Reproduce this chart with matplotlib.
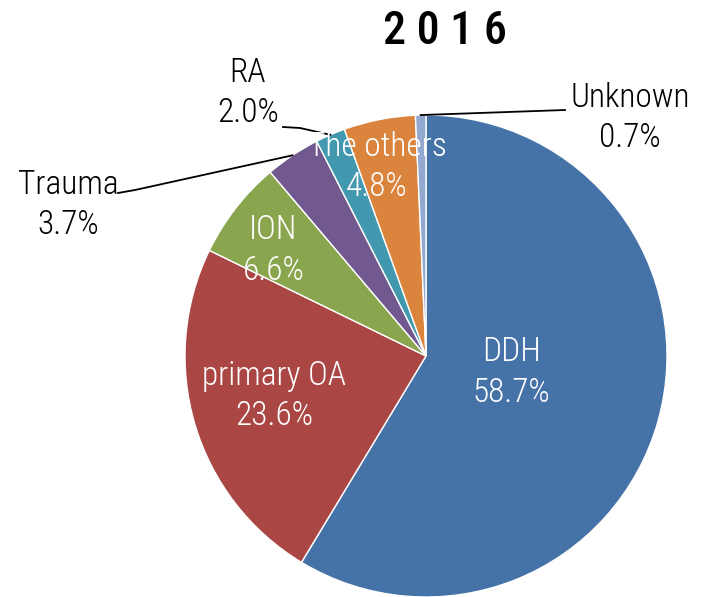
import numpy as np
import matplotlib
matplotlib.use("Agg")
import matplotlib.pyplot as plt
from matplotlib import font_manager

labels = ["DDH", "primary OA", "ION", "Trauma", "RA", "The others", "Unknown"]
values = [58.7, 23.6, 6.6, 3.7, 2.0, 4.8, 0.7]
colors = ["#4572A7", "#AA4643", "#89A54E", "#71588F", "#4198AF", "#DB843D", "#93A9CF"]
title = "2 0 1 6"

names = sorted({f.name for f in font_manager.fontManager.ttflist})
narrow = [n for n in ["Liberation Sans Narrow", "DejaVu Sans Condensed", "Roboto Condensed"] if n in names]
fam = narrow[0] if narrow else "DejaVu Sans"
plt.rcParams["font.family"] = [fam, "DejaVu Sans"]
plt.rcParams["font.stretch"] = "condensed"

W, H = 702, 597
fig = plt.figure(figsize=(W / 100, H / 100), dpi=100)
ax = fig.add_axes([0, 0, 1, 1])
ax.set_xlim(0, W)
ax.set_ylim(0, H)
ax.set_aspect("equal")
ax.axis("off")

cx, cy, R = 426, H - 356, 241
wedges, _ = ax.pie(values, colors=colors, startangle=90, counterclock=False,
                   center=(cx, cy), radius=R, normalize=True,
                   wedgeprops=dict(edgecolor="white", linewidth=1))
ax.set_xlim(0, W)
ax.set_ylim(0, H)

fs = 24
fw = "light"
ls = 1.35
# inside labels: (radius fraction, angle offset in degrees)
inside = {"DDH": (0.36, 4.4), "primary OA": (0.65, -1.7), "ION": (0.77, 3.1), "The others": (0.81, 3.4)}
for w, lab, v in zip(wedges, labels, values):
    mid = np.deg2rad((w.theta1 + w.theta2) / 2)
    txt = f"{lab}\n{v:.1f}%"
    if lab in inside:
        fr, off = inside[lab]
        ang = mid + np.deg2rad(off)
        x = cx + fr * R * np.cos(ang)
        y = cy + fr * R * np.sin(ang)
        ax.text(x, y, txt, color="white", ha="center", va="center", fontsize=fs,
                fontweight=fw, linespacing=ls)

# outside labels with leader lines
outside = {"Trauma": (68, H - 205, 118, H - 193, 135, H - 190),
           "RA": (248, H - 93, 283, H - 127, 300, H - 128),
           "Unknown": (630, H - 118, 565, H - 110, 565, H - 110)}
for w, lab, v in zip(wedges, labels, values):
    if lab not in outside:
        continue
    tx, ty, x1, y1, x2, y2 = outside[lab]
    mid = np.deg2rad((w.theta1 + w.theta2) / 2)
    ex = cx + R * np.cos(mid)
    ey = cy + R * np.sin(mid)
    ax.text(tx, ty, f"{lab}\n{v:.1f}%", color="black", ha="center", va="center",
            fontsize=fs, fontweight=fw, linespacing=ls)
    ax.plot([x1, x2, ex], [y1, y2, ey], color="black", linewidth=1.3)

ax.text(445, H - 31, title, ha="center", va="center", fontsize=33, fontweight="medium", color="black")

fig.savefig("out.png", dpi=100)
